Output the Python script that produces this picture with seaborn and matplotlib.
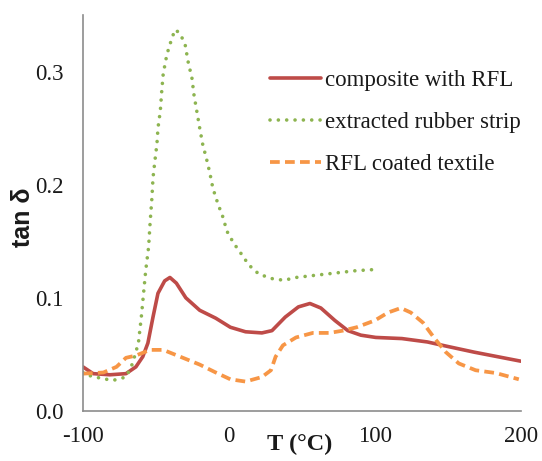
import matplotlib
matplotlib.use("Agg")
import matplotlib.pyplot as plt
import seaborn as sns
import pandas as pd

# tan delta vs temperature for three samples
t_composite = [-100, -93, -81.5, -70.5, -63.7, -59, -55.5, -52, -48.6, -44, -40.4, -36, -29.5,
               -20, -9, 1, 11.4, 22.6, 29.5, 38.6, 47.6, 55.5, 63, 72.6, 81.5, 90.4, 100.6,
               118.5, 136, 150, 168, 184, 200]
tan_composite = [0.039, 0.033, 0.032, 0.033, 0.039, 0.048, 0.060, 0.083, 0.104, 0.115, 0.118,
                 0.113, 0.100, 0.089, 0.082, 0.074, 0.070, 0.069, 0.071, 0.083, 0.092, 0.095,
                 0.091, 0.080, 0.071, 0.067, 0.065, 0.064, 0.061, 0.057, 0.052, 0.048, 0.044]

t_rubber = [-100, -98, -88, -79.5, -70.5, -66, -62, -60, -57, -55, -54, -52.7, -52, -50.7,
            -49.3, -48.6, -47, -46, -45, -42.5, -40.4, -37, -33.6, -30, -28, -25.3, -24, -22,
            -20, -18, -15, -13, -11, -7.5, -4, -1.4, 3.4, 6.8, 13.7, 20.5, 29.5, 37.7, 46,
            59.6, 73.4, 87, 99.6]
tan_rubber = [0.034, 0.032, 0.029, 0.027, 0.030, 0.042, 0.060, 0.083, 0.124, 0.145, 0.166,
              0.189, 0.206, 0.221, 0.236, 0.250, 0.265, 0.283, 0.298, 0.315, 0.324, 0.337,
              0.334, 0.324, 0.309, 0.294, 0.280, 0.265, 0.250, 0.236, 0.221, 0.210, 0.197,
              0.183, 0.171, 0.159, 0.148, 0.142, 0.129, 0.121, 0.117, 0.1155, 0.118, 0.120,
              0.122, 0.124, 0.125]

t_textile = [-100, -86, -77, -70.5, -63.7, -54, -45, -31.5, -20, -9, 1, 11.4, 22.6, 28.8, 32,
             37, 46, 57.5, 69, 78, 87.5, 100, 109, 117.8, 124.6, 133, 140.4, 148.6, 157.5,
             169, 183, 198.6]
tan_textile = [0.033, 0.034, 0.039, 0.047, 0.049, 0.054, 0.054, 0.047, 0.041, 0.034, 0.028,
               0.026, 0.030, 0.036, 0.048, 0.058, 0.065, 0.069, 0.069, 0.071, 0.074, 0.080,
               0.087, 0.091, 0.087, 0.078, 0.065, 0.052, 0.042, 0.036, 0.0335, 0.028]

labels = ["composite with RFL", "extracted rubber strip", "RFL coated textile"]
colors = ["#BE4B48", "#8DB450", "#F79646"]
x_ticks = [-100, 0, 100, 200]
y_ticks = [0.0, 0.1, 0.2, 0.3]

sns.set_style("white")
plt.rcParams["font.family"] = ["Liberation Serif", "DejaVu Serif"]
plt.rcParams["axes.unicode_minus"] = False

fig = plt.figure(figsize=(5.42, 4.61), dpi=100)
ax = fig.add_axes([0.153, 0.1085, 0.808, 0.859])

df1 = pd.DataFrame({"T": t_composite, "tan": tan_composite})
df2 = pd.DataFrame({"T": t_rubber, "tan": tan_rubber})
df3 = pd.DataFrame({"T": t_textile, "tan": tan_textile})

sns.lineplot(data=df1, x="T", y="tan", ax=ax, color=colors[0], lw=2.6, label=labels[0],
             solid_joinstyle="round", solid_capstyle="round")
sns.lineplot(data=df2, x="T", y="tan", ax=ax, color=colors[1], lw=2.6,
             linestyle=(0, (0.01, 2.3)), dash_capstyle="round", label=labels[1])
sns.lineplot(data=df3, x="T", y="tan", ax=ax, color=colors[2], lw=2.7,
             linestyle=(0, (2.6, 1.4)), label=labels[2])

ax.set_xlim(-100, 200)
ax.set_ylim(0, 0.35)
ax.set_xticks(x_ticks)
ax.set_xticklabels([str(v) for v in x_ticks])
ax.set_yticks(y_ticks)
ax.set_yticklabels([f"{v:.1f}" for v in y_ticks])
for s in ["top", "right"]:
    ax.spines[s].set_visible(False)
for s in ["left", "bottom"]:
    ax.spines[s].set_color("#8c8c8c")
    ax.spines[s].set_linewidth(1.2)
ax.tick_params(axis="both", direction="out", length=5, width=1.1, color="#8c8c8c",
               labelsize=16.5, labelcolor="#1a1a1a")
ax.tick_params(axis="y", pad=9)
ax.tick_params(axis="x", pad=6)

ax.set_xlabel("T (°C)", fontsize=17.5, fontweight="bold", color="#1a1a1a")
ax.xaxis.set_label_coords(0.495, -0.058)
ax.set_ylabel("tan δ", fontsize=18, fontweight="bold", color="#1a1a1a",
              family=["Liberation Sans", "DejaVu Sans"])
ax.yaxis.set_label_coords(-0.11, 0.49)

leg = ax.legend(loc="upper left", bbox_to_anchor=(0.428, 0.86), frameon=False,
                fontsize=16.5, handlelength=2.2, handletextpad=0.2, labelspacing=0.9,
                borderpad=0, borderaxespad=0)
for txt in leg.get_texts():
    txt.set_color("#1a1a1a")

fig.savefig("out.png", dpi=100)
